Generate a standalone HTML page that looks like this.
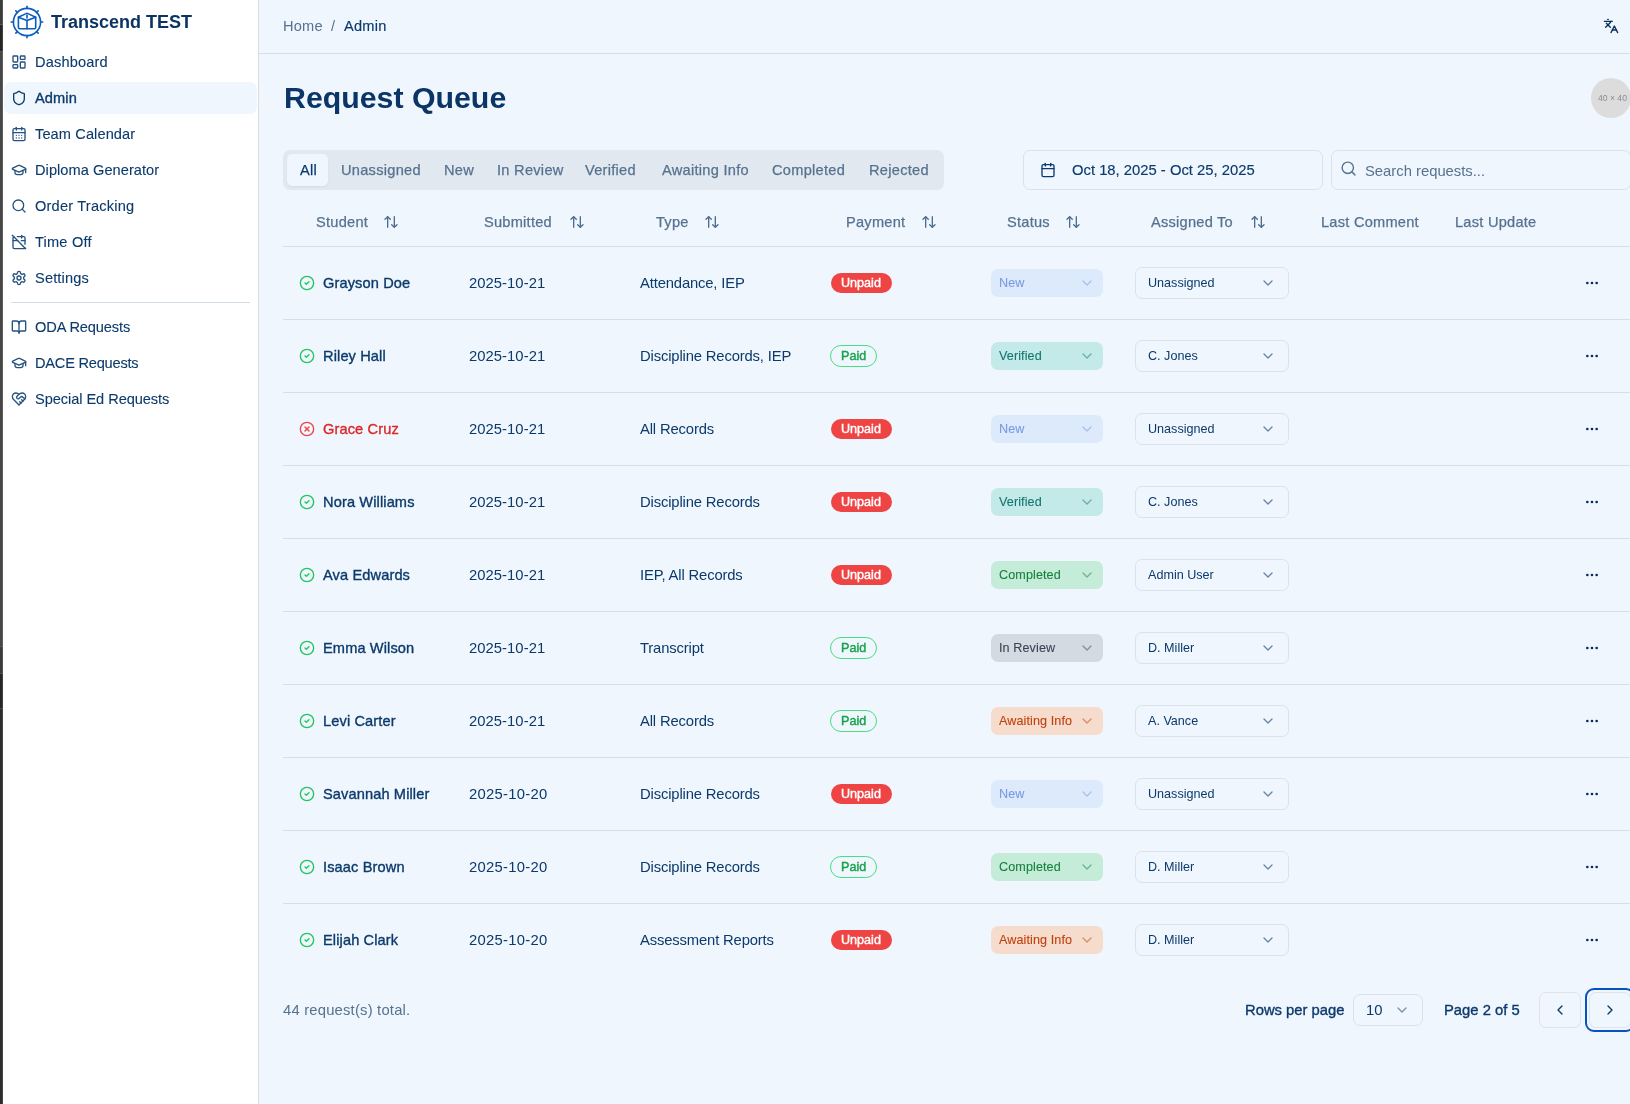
<!DOCTYPE html><html><head><meta charset="utf-8"><style>
*{margin:0;padding:0;box-sizing:border-box}
html,body{width:1630px;height:1104px;overflow:hidden;background:#eff6fe;font-family:"Liberation Sans",sans-serif;color:#0b3a6b}
.ic{position:absolute;display:block}
.t{position:absolute;white-space:nowrap;line-height:0;height:0;will-change:transform}
.box{position:absolute}

</style></head><body>
<div class="box" style="left:0;top:0px;width:3px;height:24px;background:#3c3c3c"></div>
<div class="box" style="left:0;top:24px;width:3px;height:1px;background:#585858"></div>
<div class="box" style="left:0;top:25px;width:3px;height:26px;background:#262626"></div>
<div class="box" style="left:0;top:51px;width:3px;height:1px;background:#555555"></div>
<div class="box" style="left:0;top:52px;width:3px;height:594px;background:#474747"></div>
<div class="box" style="left:0;top:646px;width:3px;height:1px;background:#5a5a5a"></div>
<div class="box" style="left:0;top:647px;width:3px;height:26px;background:#3b3b3b"></div>
<div class="box" style="left:0;top:673px;width:3px;height:1px;background:#505050"></div>
<div class="box" style="left:0;top:674px;width:3px;height:34px;background:#262626"></div>
<div class="box" style="left:0;top:708px;width:3px;height:1px;background:#4a4a4a"></div>
<div class="box" style="left:0;top:709px;width:3px;height:395px;background:#2c2c2c"></div>
<div class="box" style="left:2px;top:0;width:1px;height:1104px;background:rgba(255,255,255,0.12)"></div>
<div class="box" style="left:3px;top:0;width:256px;height:1104px;background:#fff;border-right:1px solid #d5dde6"></div>
<svg class="ic" style="left:9px;top:4px;width:36px;height:36px" viewBox="0 0 36 36" fill="none" stroke="#0b5cc0" stroke-width="1.6" stroke-linecap="round" stroke-linejoin="round"><circle cx="18" cy="18" r="13.6"/><path d="M31.60 18.00L33.80 18.00"/><path d="M27.62 27.62L29.17 29.17"/><path d="M18.00 31.60L18.00 33.80"/><path d="M8.38 27.62L6.83 29.17"/><path d="M4.40 18.00L2.20 18.00"/><path d="M8.38 8.38L6.83 6.83"/><path d="M18.00 4.40L18.00 2.20"/><path d="M27.62 8.38L29.17 6.83"/><path d="M9.4 13.2 L17 9.6 Q18 9 19 9.6 L26.7 13.2 L26.7 23.6 Q26.7 24.8 25.5 24.8 L10.6 24.8 Q9.4 24.8 9.4 23.6 Z"/><path d="M9.4 13.2 L18 16.6 L26.7 13.2"/><path d="M18 16.6 V24.8"/><path d="M18 11 V14"/></svg>
<div class="t" style="left:51px;top:21.5px;font-size:18px;color:#0a3463;font-weight:700;letter-spacing:0px;">Transcend TEST</div>
<div class="box" style="left:4px;top:82px;width:253px;height:32px;background:#eff6fe;border-radius:7px"></div>
<svg class="ic" style="left:11px;top:54px;width:16px;height:16px;" viewBox="0 0 24 24" fill="none" stroke="#25527f" stroke-width="2" stroke-linecap="round" stroke-linejoin="round"><rect width="7" height="9" x="3" y="3" rx="1"/><rect width="7" height="5" x="14" y="3" rx="1"/><rect width="7" height="9" x="14" y="12" rx="1"/><rect width="7" height="5" x="3" y="16" rx="1"/></svg>
<div class="t" style="left:35px;top:62px;font-size:14.6px;color:#0b3a6b;font-weight:400;letter-spacing:0.15px;-webkit-text-stroke:0.1px #0b3a6b;">Dashboard</div>
<svg class="ic" style="left:11px;top:90px;width:16px;height:16px;" viewBox="0 0 24 24" fill="none" stroke="#0b3a6b" stroke-width="2" stroke-linecap="round" stroke-linejoin="round"><path d="M20 13c0 5-3.5 7.5-7.66 8.95a1 1 0 0 1-.67-.01C7.5 20.5 4 18 4 13V6a1 1 0 0 1 1-1c2 0 4.5-1.2 6.24-2.72a1.170 1.170 0 0 1 1.52 0C14.51 3.81 17 5 19 5a1 1 0 0 1 1 1z"/></svg>
<div class="t" style="left:35px;top:98px;font-size:14.6px;color:#0b3a6b;font-weight:400;letter-spacing:0.1px;-webkit-text-stroke:0.35px #0b3a6b;">Admin</div>
<svg class="ic" style="left:11px;top:126px;width:16px;height:16px;" viewBox="0 0 24 24" fill="none" stroke="#25527f" stroke-width="2" stroke-linecap="round" stroke-linejoin="round"><path d="M8 2v4"/><path d="M16 2v4"/><rect width="18" height="18" x="3" y="4" rx="2"/><path d="M3 10h18"/><path d="M8 14h.01"/><path d="M12 14h.01"/><path d="M16 14h.01"/><path d="M8 18h.01"/><path d="M12 18h.01"/><path d="M16 18h.01"/></svg>
<div class="t" style="left:35px;top:134px;font-size:14.6px;color:#0b3a6b;font-weight:400;letter-spacing:0.1px;-webkit-text-stroke:0.1px #0b3a6b;">Team Calendar</div>
<svg class="ic" style="left:11px;top:162px;width:16px;height:16px;" viewBox="0 0 24 24" fill="none" stroke="#25527f" stroke-width="2" stroke-linecap="round" stroke-linejoin="round"><path d="M21.42 10.922a1 1 0 0 0-.019-1.838L12.83 5.18a2 2 0 0 0-1.66 0L2.6 9.08a1 1 0 0 0 0 1.832l8.57 3.908a2 2 0 0 0 1.66 0z"/><path d="M22 10v6"/><path d="M6 12.5V16a6 3 0 0 0 12 0v-3.5"/></svg>
<div class="t" style="left:35px;top:170px;font-size:14.6px;color:#0b3a6b;font-weight:400;letter-spacing:0.05px;-webkit-text-stroke:0.1px #0b3a6b;">Diploma Generator</div>
<svg class="ic" style="left:11px;top:198px;width:16px;height:16px;" viewBox="0 0 24 24" fill="none" stroke="#25527f" stroke-width="2" stroke-linecap="round" stroke-linejoin="round"><circle cx="11" cy="11" r="8"/><path d="m21 21-4.3-4.3"/></svg>
<div class="t" style="left:35px;top:206px;font-size:14.6px;color:#0b3a6b;font-weight:400;letter-spacing:0.2px;-webkit-text-stroke:0.1px #0b3a6b;">Order Tracking</div>
<svg class="ic" style="left:11px;top:234px;width:16px;height:16px;" viewBox="0 0 24 24" fill="none" stroke="#25527f" stroke-width="2" stroke-linecap="round" stroke-linejoin="round"><path d="M4.2 4.2A2 2 0 0 0 3 6v14a2 2 0 0 0 2 2h14a2 2 0 0 0 1.82-1.18"/><path d="M21 15.5V6a2 2 0 0 0-2-2H9.5"/><path d="M16 2v4"/><path d="M3 10h7"/><path d="M21 10h-5.5"/><path d="m2 2 20 20"/></svg>
<div class="t" style="left:35px;top:242px;font-size:14.6px;color:#0b3a6b;font-weight:400;letter-spacing:0.2px;-webkit-text-stroke:0.1px #0b3a6b;">Time Off</div>
<svg class="ic" style="left:11px;top:270px;width:16px;height:16px;" viewBox="0 0 24 24" fill="none" stroke="#25527f" stroke-width="2" stroke-linecap="round" stroke-linejoin="round"><path d="M12.22 2h-.44a2 2 0 0 0-2 2v.18a2 2 0 0 1-1 1.73l-.43.25a2 2 0 0 1-2 0l-.15-.08a2 2 0 0 0-2.73.73l-.22.38a2 2 0 0 0 .73 2.730l.15.1a2 2 0 0 1 1 1.72v.51a2 2 0 0 1-1 1.74l-.15.09a2 2 0 0 0-.73 2.73l.22.38a2 2 0 0 0 2.73.73l.15-.08a2 2 0 0 1 2 0l.43.25a2 2 0 0 1 1 1.73V20a2 2 0 0 0 2 2h.44a2 2 0 0 0 2-2v-.18a2 2 0 0 1 1-1.73l.43-.25a2 2 0 0 1 2 0l.15.08a2 2 0 0 0 2.73-.73l.22-.39a2 2 0 0 0-.73-2.73l-.15-.08a2 2 0 0 1-1-1.74v-.5a2 2 0 0 1 1-1.74l.15-.09a2 2 0 0 0 .73-2.73l-.22-.38a2 2 0 0 0-2.73-.73l-.15.08a2 2 0 0 1-2 0l-.43-.25a2 2 0 0 1-1-1.73V4a2 2 0 0 0-2-2z"/><circle cx="12" cy="12" r="3"/></svg>
<div class="t" style="left:35px;top:278px;font-size:14.6px;color:#0b3a6b;font-weight:400;letter-spacing:0.15px;-webkit-text-stroke:0.1px #0b3a6b;">Settings</div>
<svg class="ic" style="left:11px;top:319px;width:16px;height:16px;" viewBox="0 0 24 24" fill="none" stroke="#25527f" stroke-width="2" stroke-linecap="round" stroke-linejoin="round"><path d="M12 7v14"/><path d="M3 18a1 1 0 0 1-1-1V4a1 1 0 0 1 1-1h5a4 4 0 0 1 4 4 4 4 0 0 1 4-4h5a1 1 0 0 1 1 1v13a1 1 0 0 1-1 1h-6a3 3 0 0 0-3 3 3 3 0 0 0-3-3z"/></svg>
<div class="t" style="left:35px;top:327px;font-size:14.6px;color:#0b3a6b;font-weight:400;letter-spacing:-0.12px;-webkit-text-stroke:0.1px #0b3a6b;">ODA Requests</div>
<svg class="ic" style="left:11px;top:355px;width:16px;height:16px;" viewBox="0 0 24 24" fill="none" stroke="#25527f" stroke-width="2" stroke-linecap="round" stroke-linejoin="round"><path d="M21.42 10.922a1 1 0 0 0-.019-1.838L12.83 5.18a2 2 0 0 0-1.66 0L2.6 9.08a1 1 0 0 0 0 1.832l8.57 3.908a2 2 0 0 0 1.66 0z"/><path d="M22 10v6"/><path d="M6 12.5V16a6 3 0 0 0 12 0v-3.5"/></svg>
<div class="t" style="left:35px;top:363px;font-size:14.6px;color:#0b3a6b;font-weight:400;letter-spacing:-0.22px;-webkit-text-stroke:0.1px #0b3a6b;">DACE Requests</div>
<svg class="ic" style="left:11px;top:391px;width:16px;height:16px;" viewBox="0 0 24 24" fill="none" stroke="#25527f" stroke-width="2" stroke-linecap="round" stroke-linejoin="round"><path d="M19 14c1.49-1.46 3-3.21 3-5.5A5.5 5.5 0 0 0 16.5 3c-1.76 0-3 .5-4.5 2-1.5-1.5-2.74-2-4.5-2A5.5 5.5 0 0 0 2 8.5c0 2.3 1.5 4.05 3 5.5l7 7Z"/><path d="M12 5 9.04 7.96a2.17 2.17 0 0 0 0 3.08c.82.82 2.13.85 3 .07l2.07-1.9a2.82 2.82 0 0 1 3.79 0l2.96 2.66"/><path d="m18 15-2-2"/><path d="m15 18-2-2"/></svg>
<div class="t" style="left:35px;top:399px;font-size:14.6px;color:#0b3a6b;font-weight:400;letter-spacing:-0.06px;-webkit-text-stroke:0.1px #0b3a6b;">Special Ed Requests</div>
<div class="box" style="left:11px;top:302px;width:239px;height:1px;background:#d3dde7"></div>
<div class="box" style="left:259px;top:53px;width:1371px;height:1px;background:#d6dee7"></div>
<div class="t" style="left:283px;top:26px;font-size:14.6px;color:#56728f;font-weight:400;letter-spacing:0.2px;">Home</div>
<div class="t" style="left:331px;top:26px;font-size:14.6px;color:#56728f;font-weight:400;letter-spacing:0px;">/</div>
<div class="t" style="left:344px;top:26px;font-size:14.6px;color:#0b3a6b;font-weight:400;letter-spacing:0.25px;-webkit-text-stroke:0.15px #0b3a6b;">Admin</div>
<svg class="ic" style="left:1603px;top:18px;width:16px;height:16px;" viewBox="0 0 24 24" fill="none" stroke="#0a2f5e" stroke-width="2" stroke-linecap="round" stroke-linejoin="round"><path d="m5 8 6 6"/><path d="m4 14 6-6 2-3"/><path d="M2 5h12"/><path d="M7 2h1"/><path d="m22 22-5-10-5 10"/><path d="M14 18h6"/></svg>
<div class="t" style="left:283.5px;top:98px;font-size:30.3px;color:#0a3566;font-weight:700;letter-spacing:0px;">Request Queue</div>
<div class="box" style="left:1591px;top:78px;width:40px;height:40px;border-radius:50%;background:#dcdcdc"></div>
<div class="t" style="left:1597.6px;top:98.4px;font-size:8.6px;color:#8c8c8c;font-weight:400;letter-spacing:0px;">40 × 40</div>
<div class="box" style="left:283px;top:150px;width:661px;height:40px;background:#e1e8f0;border-radius:7px"></div>
<div class="box" style="left:287px;top:154px;width:41px;height:32px;background:#eff6fe;border-radius:5px;box-shadow:0 1px 2px rgba(0,0,0,0.06)"></div>
<div class="t" style="left:299.5px;top:170px;font-size:14.6px;color:#0b3a6b;font-weight:400;letter-spacing:0.28px;-webkit-text-stroke:0.25px #0b3a6b;">All</div>
<div class="t" style="left:340.5px;top:170px;font-size:14.6px;color:#56728f;font-weight:400;letter-spacing:0.28px;-webkit-text-stroke:0.25px #56728f;">Unassigned</div>
<div class="t" style="left:443.7px;top:170px;font-size:14.6px;color:#56728f;font-weight:400;letter-spacing:0.28px;-webkit-text-stroke:0.25px #56728f;">New</div>
<div class="t" style="left:497.3px;top:170px;font-size:14.6px;color:#56728f;font-weight:400;letter-spacing:0.28px;-webkit-text-stroke:0.25px #56728f;">In Review</div>
<div class="t" style="left:585.3px;top:170px;font-size:14.6px;color:#56728f;font-weight:400;letter-spacing:0.28px;-webkit-text-stroke:0.25px #56728f;">Verified</div>
<div class="t" style="left:661.7px;top:170px;font-size:14.6px;color:#56728f;font-weight:400;letter-spacing:0.28px;-webkit-text-stroke:0.25px #56728f;">Awaiting Info</div>
<div class="t" style="left:772.4px;top:170px;font-size:14.6px;color:#56728f;font-weight:400;letter-spacing:0.28px;-webkit-text-stroke:0.25px #56728f;">Completed</div>
<div class="t" style="left:869.4px;top:170px;font-size:14.6px;color:#56728f;font-weight:400;letter-spacing:0.28px;-webkit-text-stroke:0.25px #56728f;">Rejected</div>
<div class="box" style="left:1023px;top:150px;width:300px;height:40px;border:1px solid #dbe2ea;border-radius:7px"></div>
<svg class="ic" style="left:1040px;top:162px;width:16px;height:16px;" viewBox="0 0 24 24" fill="none" stroke="#0b3a6b" stroke-width="2" stroke-linecap="round" stroke-linejoin="round"><path d="M8 2v4"/><path d="M16 2v4"/><rect width="18" height="18" x="3" y="4" rx="2"/><path d="M3 10h18"/></svg>
<div class="t" style="left:1072.4px;top:170px;font-size:14.8px;color:#0b3a6b;font-weight:400;letter-spacing:0px;-webkit-text-stroke:0.15px #0b3a6b;">Oct 18, 2025 - Oct 25, 2025</div>
<div class="box" style="left:1331px;top:150px;width:300px;height:40px;border:1px solid #dbe2ea;border-radius:7px"></div>
<svg class="ic" style="left:1340px;top:160px;width:17px;height:17px;" viewBox="0 0 24 24" fill="none" stroke="#56728f" stroke-width="2" stroke-linecap="round" stroke-linejoin="round"><circle cx="11" cy="11" r="8"/><path d="m21 21-4.3-4.3"/></svg>
<div class="t" style="left:1364.7px;top:170.5px;font-size:14.8px;color:#56728f;font-weight:400;letter-spacing:0px;">Search requests...</div>
<div class="t" style="left:315.6px;top:222px;font-size:14.6px;color:#56728f;font-weight:400;letter-spacing:0.25px;-webkit-text-stroke:0.25px #56728f;">Student</div>
<svg class="ic" style="left:383px;top:214px;width:16px;height:16px;" viewBox="0 0 24 24" fill="none" stroke="#4d6d90" stroke-width="2" stroke-linecap="round" stroke-linejoin="round"><path d="m21 16-4 4-4-4"/><path d="M17 20V4"/><path d="m3 8 4-4 4 4"/><path d="M7 4v16"/></svg>
<div class="t" style="left:484.4px;top:222px;font-size:14.6px;color:#56728f;font-weight:400;letter-spacing:0.25px;-webkit-text-stroke:0.25px #56728f;">Submitted</div>
<svg class="ic" style="left:569px;top:214px;width:16px;height:16px;" viewBox="0 0 24 24" fill="none" stroke="#4d6d90" stroke-width="2" stroke-linecap="round" stroke-linejoin="round"><path d="m21 16-4 4-4-4"/><path d="M17 20V4"/><path d="m3 8 4-4 4 4"/><path d="M7 4v16"/></svg>
<div class="t" style="left:655.7px;top:222px;font-size:14.6px;color:#56728f;font-weight:400;letter-spacing:0.25px;-webkit-text-stroke:0.25px #56728f;">Type</div>
<svg class="ic" style="left:704px;top:214px;width:16px;height:16px;" viewBox="0 0 24 24" fill="none" stroke="#4d6d90" stroke-width="2" stroke-linecap="round" stroke-linejoin="round"><path d="m21 16-4 4-4-4"/><path d="M17 20V4"/><path d="m3 8 4-4 4 4"/><path d="M7 4v16"/></svg>
<div class="t" style="left:846px;top:222px;font-size:14.6px;color:#56728f;font-weight:400;letter-spacing:0.25px;-webkit-text-stroke:0.25px #56728f;">Payment</div>
<svg class="ic" style="left:921px;top:214px;width:16px;height:16px;" viewBox="0 0 24 24" fill="none" stroke="#4d6d90" stroke-width="2" stroke-linecap="round" stroke-linejoin="round"><path d="m21 16-4 4-4-4"/><path d="M17 20V4"/><path d="m3 8 4-4 4 4"/><path d="M7 4v16"/></svg>
<div class="t" style="left:1007px;top:222px;font-size:14.6px;color:#56728f;font-weight:400;letter-spacing:0.25px;-webkit-text-stroke:0.25px #56728f;">Status</div>
<svg class="ic" style="left:1065px;top:214px;width:16px;height:16px;" viewBox="0 0 24 24" fill="none" stroke="#4d6d90" stroke-width="2" stroke-linecap="round" stroke-linejoin="round"><path d="m21 16-4 4-4-4"/><path d="M17 20V4"/><path d="m3 8 4-4 4 4"/><path d="M7 4v16"/></svg>
<div class="t" style="left:1151px;top:222px;font-size:14.6px;color:#56728f;font-weight:400;letter-spacing:0.25px;-webkit-text-stroke:0.25px #56728f;">Assigned To</div>
<svg class="ic" style="left:1250px;top:214px;width:16px;height:16px;" viewBox="0 0 24 24" fill="none" stroke="#4d6d90" stroke-width="2" stroke-linecap="round" stroke-linejoin="round"><path d="m21 16-4 4-4-4"/><path d="M17 20V4"/><path d="m3 8 4-4 4 4"/><path d="M7 4v16"/></svg>
<div class="t" style="left:1321px;top:222px;font-size:14.6px;color:#56728f;font-weight:400;letter-spacing:0.25px;-webkit-text-stroke:0.25px #56728f;">Last Comment</div>
<div class="t" style="left:1455px;top:222px;font-size:14.6px;color:#56728f;font-weight:400;letter-spacing:0.25px;-webkit-text-stroke:0.25px #56728f;">Last Update</div>
<div class="box" style="left:283px;top:246px;width:1347px;height:1px;background:#d6dee7"></div>
<div class="box" style="left:283px;top:319px;width:1347px;height:1px;background:#d6dee7"></div>
<svg class="ic" style="left:299px;top:275px;width:16px;height:16px;" viewBox="0 0 24 24" fill="none" stroke="#22c55e" stroke-width="2" stroke-linecap="round" stroke-linejoin="round"><circle cx="12" cy="12" r="10"/><path d="m9 12 2 2 4-4"/></svg>
<div class="t" style="left:323px;top:283px;font-size:14.6px;color:#0b3a6b;font-weight:400;letter-spacing:0.12px;-webkit-text-stroke:0.35px #0b3a6b;">Grayson Doe</div>
<div class="t" style="left:468.8px;top:283px;font-size:14.8px;color:#0b3a6b;font-weight:400;letter-spacing:0.05px;">2025-10-21</div>
<div class="t" style="left:639.6px;top:283px;font-size:14.8px;color:#0b3a6b;font-weight:400;letter-spacing:-0.15px;">Attendance, IEP</div>
<div class="box" style="left:831px;top:273px;width:61px;height:20px;background:#ef4444;border-radius:10px"></div>
<div class="t" style="left:841.4px;top:283px;font-size:12.6px;color:#fff;font-weight:400;letter-spacing:0px;-webkit-text-stroke:0.4px #fff;">Unpaid</div>
<div class="box" style="left:991px;top:269px;width:112px;height:28px;background:#dceafb;border-radius:7px"></div>
<div class="t" style="left:999px;top:283px;font-size:12.6px;color:#7a9ae3;font-weight:400;letter-spacing:0.1px;-webkit-text-stroke:0.1px #7a9ae3;">New</div>
<svg class="ic" style="left:1079px;top:275px;width:16px;height:16px;opacity:0.5" viewBox="0 0 24 24" fill="none" stroke="#7a9ae3" stroke-width="2" stroke-linecap="round" stroke-linejoin="round"><path d="m6 9 6 6 6-6"/></svg>
<div class="box" style="left:1135px;top:267px;width:154px;height:32px;border:1px solid #dbe2ea;border-radius:7px"></div>
<div class="t" style="left:1148.0px;top:283px;font-size:12.6px;color:#0b3a6b;font-weight:400;letter-spacing:0px;">Unassigned</div>
<svg class="ic" style="left:1260px;top:275px;width:16px;height:16px;opacity:0.9" viewBox="0 0 24 24" fill="none" stroke="#5b7a99" stroke-width="2" stroke-linecap="round" stroke-linejoin="round"><path d="m6 9 6 6 6-6"/></svg>
<svg class="ic" style="left:1584px;top:275px;width:16px;height:16px;" viewBox="0 0 24 24" fill="none" stroke="#0a2a5c" stroke-width="2" stroke-linecap="round" stroke-linejoin="round"><circle cx="12" cy="12" r="1"/><circle cx="19" cy="12" r="1"/><circle cx="5" cy="12" r="1"/></svg>
<div class="box" style="left:283px;top:392px;width:1347px;height:1px;background:#d6dee7"></div>
<svg class="ic" style="left:299px;top:348px;width:16px;height:16px;" viewBox="0 0 24 24" fill="none" stroke="#22c55e" stroke-width="2" stroke-linecap="round" stroke-linejoin="round"><circle cx="12" cy="12" r="10"/><path d="m9 12 2 2 4-4"/></svg>
<div class="t" style="left:323px;top:356px;font-size:14.6px;color:#0b3a6b;font-weight:400;letter-spacing:0.12px;-webkit-text-stroke:0.35px #0b3a6b;">Riley Hall</div>
<div class="t" style="left:468.8px;top:356px;font-size:14.8px;color:#0b3a6b;font-weight:400;letter-spacing:0.05px;">2025-10-21</div>
<div class="t" style="left:639.6px;top:356px;font-size:14.8px;color:#0b3a6b;font-weight:400;letter-spacing:-0.15px;">Discipline Records, IEP</div>
<div class="box" style="left:830px;top:345px;width:47px;height:22px;border:1px solid #4ade80;border-radius:11px"></div>
<div class="t" style="left:841.4px;top:356px;font-size:12.6px;color:#16a34a;font-weight:400;letter-spacing:0px;-webkit-text-stroke:0.4px #16a34a;">Paid</div>
<div class="box" style="left:991px;top:342px;width:112px;height:28px;background:#c3e9e9;border-radius:7px"></div>
<div class="t" style="left:999px;top:356px;font-size:12.6px;color:#13766f;font-weight:400;letter-spacing:0.1px;-webkit-text-stroke:0.1px #13766f;">Verified</div>
<svg class="ic" style="left:1079px;top:348px;width:16px;height:16px;opacity:0.5" viewBox="0 0 24 24" fill="none" stroke="#13766f" stroke-width="2" stroke-linecap="round" stroke-linejoin="round"><path d="m6 9 6 6 6-6"/></svg>
<div class="box" style="left:1135px;top:340px;width:154px;height:32px;border:1px solid #dbe2ea;border-radius:7px"></div>
<div class="t" style="left:1148.0px;top:356px;font-size:12.6px;color:#0b3a6b;font-weight:400;letter-spacing:0px;">C. Jones</div>
<svg class="ic" style="left:1260px;top:348px;width:16px;height:16px;opacity:0.9" viewBox="0 0 24 24" fill="none" stroke="#5b7a99" stroke-width="2" stroke-linecap="round" stroke-linejoin="round"><path d="m6 9 6 6 6-6"/></svg>
<svg class="ic" style="left:1584px;top:348px;width:16px;height:16px;" viewBox="0 0 24 24" fill="none" stroke="#0a2a5c" stroke-width="2" stroke-linecap="round" stroke-linejoin="round"><circle cx="12" cy="12" r="1"/><circle cx="19" cy="12" r="1"/><circle cx="5" cy="12" r="1"/></svg>
<div class="box" style="left:283px;top:465px;width:1347px;height:1px;background:#d6dee7"></div>
<svg class="ic" style="left:299px;top:421px;width:16px;height:16px;" viewBox="0 0 24 24" fill="none" stroke="#ef4444" stroke-width="2" stroke-linecap="round" stroke-linejoin="round"><circle cx="12" cy="12" r="10"/><path d="m15 9-6 6"/><path d="m9 9 6 6"/></svg>
<div class="t" style="left:323px;top:429px;font-size:14.6px;color:#dc2626;font-weight:400;letter-spacing:0.12px;-webkit-text-stroke:0.35px #dc2626;">Grace Cruz</div>
<div class="t" style="left:468.8px;top:429px;font-size:14.8px;color:#0b3a6b;font-weight:400;letter-spacing:0.05px;">2025-10-21</div>
<div class="t" style="left:639.6px;top:429px;font-size:14.8px;color:#0b3a6b;font-weight:400;letter-spacing:-0.15px;">All Records</div>
<div class="box" style="left:831px;top:419px;width:61px;height:20px;background:#ef4444;border-radius:10px"></div>
<div class="t" style="left:841.4px;top:429px;font-size:12.6px;color:#fff;font-weight:400;letter-spacing:0px;-webkit-text-stroke:0.4px #fff;">Unpaid</div>
<div class="box" style="left:991px;top:415px;width:112px;height:28px;background:#dceafb;border-radius:7px"></div>
<div class="t" style="left:999px;top:429px;font-size:12.6px;color:#7a9ae3;font-weight:400;letter-spacing:0.1px;-webkit-text-stroke:0.1px #7a9ae3;">New</div>
<svg class="ic" style="left:1079px;top:421px;width:16px;height:16px;opacity:0.5" viewBox="0 0 24 24" fill="none" stroke="#7a9ae3" stroke-width="2" stroke-linecap="round" stroke-linejoin="round"><path d="m6 9 6 6 6-6"/></svg>
<div class="box" style="left:1135px;top:413px;width:154px;height:32px;border:1px solid #dbe2ea;border-radius:7px"></div>
<div class="t" style="left:1148.0px;top:429px;font-size:12.6px;color:#0b3a6b;font-weight:400;letter-spacing:0px;">Unassigned</div>
<svg class="ic" style="left:1260px;top:421px;width:16px;height:16px;opacity:0.9" viewBox="0 0 24 24" fill="none" stroke="#5b7a99" stroke-width="2" stroke-linecap="round" stroke-linejoin="round"><path d="m6 9 6 6 6-6"/></svg>
<svg class="ic" style="left:1584px;top:421px;width:16px;height:16px;" viewBox="0 0 24 24" fill="none" stroke="#0a2a5c" stroke-width="2" stroke-linecap="round" stroke-linejoin="round"><circle cx="12" cy="12" r="1"/><circle cx="19" cy="12" r="1"/><circle cx="5" cy="12" r="1"/></svg>
<div class="box" style="left:283px;top:538px;width:1347px;height:1px;background:#d6dee7"></div>
<svg class="ic" style="left:299px;top:494px;width:16px;height:16px;" viewBox="0 0 24 24" fill="none" stroke="#22c55e" stroke-width="2" stroke-linecap="round" stroke-linejoin="round"><circle cx="12" cy="12" r="10"/><path d="m9 12 2 2 4-4"/></svg>
<div class="t" style="left:323px;top:502px;font-size:14.6px;color:#0b3a6b;font-weight:400;letter-spacing:0.12px;-webkit-text-stroke:0.35px #0b3a6b;">Nora Williams</div>
<div class="t" style="left:468.8px;top:502px;font-size:14.8px;color:#0b3a6b;font-weight:400;letter-spacing:0.05px;">2025-10-21</div>
<div class="t" style="left:639.6px;top:502px;font-size:14.8px;color:#0b3a6b;font-weight:400;letter-spacing:-0.15px;">Discipline Records</div>
<div class="box" style="left:831px;top:492px;width:61px;height:20px;background:#ef4444;border-radius:10px"></div>
<div class="t" style="left:841.4px;top:502px;font-size:12.6px;color:#fff;font-weight:400;letter-spacing:0px;-webkit-text-stroke:0.4px #fff;">Unpaid</div>
<div class="box" style="left:991px;top:488px;width:112px;height:28px;background:#c3e9e9;border-radius:7px"></div>
<div class="t" style="left:999px;top:502px;font-size:12.6px;color:#13766f;font-weight:400;letter-spacing:0.1px;-webkit-text-stroke:0.1px #13766f;">Verified</div>
<svg class="ic" style="left:1079px;top:494px;width:16px;height:16px;opacity:0.5" viewBox="0 0 24 24" fill="none" stroke="#13766f" stroke-width="2" stroke-linecap="round" stroke-linejoin="round"><path d="m6 9 6 6 6-6"/></svg>
<div class="box" style="left:1135px;top:486px;width:154px;height:32px;border:1px solid #dbe2ea;border-radius:7px"></div>
<div class="t" style="left:1148.0px;top:502px;font-size:12.6px;color:#0b3a6b;font-weight:400;letter-spacing:0px;">C. Jones</div>
<svg class="ic" style="left:1260px;top:494px;width:16px;height:16px;opacity:0.9" viewBox="0 0 24 24" fill="none" stroke="#5b7a99" stroke-width="2" stroke-linecap="round" stroke-linejoin="round"><path d="m6 9 6 6 6-6"/></svg>
<svg class="ic" style="left:1584px;top:494px;width:16px;height:16px;" viewBox="0 0 24 24" fill="none" stroke="#0a2a5c" stroke-width="2" stroke-linecap="round" stroke-linejoin="round"><circle cx="12" cy="12" r="1"/><circle cx="19" cy="12" r="1"/><circle cx="5" cy="12" r="1"/></svg>
<div class="box" style="left:283px;top:611px;width:1347px;height:1px;background:#d6dee7"></div>
<svg class="ic" style="left:299px;top:567px;width:16px;height:16px;" viewBox="0 0 24 24" fill="none" stroke="#22c55e" stroke-width="2" stroke-linecap="round" stroke-linejoin="round"><circle cx="12" cy="12" r="10"/><path d="m9 12 2 2 4-4"/></svg>
<div class="t" style="left:323px;top:575px;font-size:14.6px;color:#0b3a6b;font-weight:400;letter-spacing:0.12px;-webkit-text-stroke:0.35px #0b3a6b;">Ava Edwards</div>
<div class="t" style="left:468.8px;top:575px;font-size:14.8px;color:#0b3a6b;font-weight:400;letter-spacing:0.05px;">2025-10-21</div>
<div class="t" style="left:639.6px;top:575px;font-size:14.8px;color:#0b3a6b;font-weight:400;letter-spacing:-0.15px;">IEP, All Records</div>
<div class="box" style="left:831px;top:565px;width:61px;height:20px;background:#ef4444;border-radius:10px"></div>
<div class="t" style="left:841.4px;top:575px;font-size:12.6px;color:#fff;font-weight:400;letter-spacing:0px;-webkit-text-stroke:0.4px #fff;">Unpaid</div>
<div class="box" style="left:991px;top:561px;width:112px;height:28px;background:#c5ecd8;border-radius:7px"></div>
<div class="t" style="left:999px;top:575px;font-size:12.6px;color:#18803f;font-weight:400;letter-spacing:0.1px;-webkit-text-stroke:0.1px #18803f;">Completed</div>
<svg class="ic" style="left:1079px;top:567px;width:16px;height:16px;opacity:0.5" viewBox="0 0 24 24" fill="none" stroke="#18803f" stroke-width="2" stroke-linecap="round" stroke-linejoin="round"><path d="m6 9 6 6 6-6"/></svg>
<div class="box" style="left:1135px;top:559px;width:154px;height:32px;border:1px solid #dbe2ea;border-radius:7px"></div>
<div class="t" style="left:1148.0px;top:575px;font-size:12.6px;color:#0b3a6b;font-weight:400;letter-spacing:0px;">Admin User</div>
<svg class="ic" style="left:1260px;top:567px;width:16px;height:16px;opacity:0.9" viewBox="0 0 24 24" fill="none" stroke="#5b7a99" stroke-width="2" stroke-linecap="round" stroke-linejoin="round"><path d="m6 9 6 6 6-6"/></svg>
<svg class="ic" style="left:1584px;top:567px;width:16px;height:16px;" viewBox="0 0 24 24" fill="none" stroke="#0a2a5c" stroke-width="2" stroke-linecap="round" stroke-linejoin="round"><circle cx="12" cy="12" r="1"/><circle cx="19" cy="12" r="1"/><circle cx="5" cy="12" r="1"/></svg>
<div class="box" style="left:283px;top:684px;width:1347px;height:1px;background:#d6dee7"></div>
<svg class="ic" style="left:299px;top:640px;width:16px;height:16px;" viewBox="0 0 24 24" fill="none" stroke="#22c55e" stroke-width="2" stroke-linecap="round" stroke-linejoin="round"><circle cx="12" cy="12" r="10"/><path d="m9 12 2 2 4-4"/></svg>
<div class="t" style="left:323px;top:648px;font-size:14.6px;color:#0b3a6b;font-weight:400;letter-spacing:0.12px;-webkit-text-stroke:0.35px #0b3a6b;">Emma Wilson</div>
<div class="t" style="left:468.8px;top:648px;font-size:14.8px;color:#0b3a6b;font-weight:400;letter-spacing:0.05px;">2025-10-21</div>
<div class="t" style="left:639.6px;top:648px;font-size:14.8px;color:#0b3a6b;font-weight:400;letter-spacing:-0.15px;">Transcript</div>
<div class="box" style="left:830px;top:637px;width:47px;height:22px;border:1px solid #4ade80;border-radius:11px"></div>
<div class="t" style="left:841.4px;top:648px;font-size:12.6px;color:#16a34a;font-weight:400;letter-spacing:0px;-webkit-text-stroke:0.4px #16a34a;">Paid</div>
<div class="box" style="left:991px;top:634px;width:112px;height:28px;background:#d4dae2;border-radius:7px"></div>
<div class="t" style="left:999px;top:648px;font-size:12.6px;color:#394455;font-weight:400;letter-spacing:0.1px;-webkit-text-stroke:0.1px #394455;">In Review</div>
<svg class="ic" style="left:1079px;top:640px;width:16px;height:16px;opacity:0.5" viewBox="0 0 24 24" fill="none" stroke="#394455" stroke-width="2" stroke-linecap="round" stroke-linejoin="round"><path d="m6 9 6 6 6-6"/></svg>
<div class="box" style="left:1135px;top:632px;width:154px;height:32px;border:1px solid #dbe2ea;border-radius:7px"></div>
<div class="t" style="left:1148.0px;top:648px;font-size:12.6px;color:#0b3a6b;font-weight:400;letter-spacing:0px;">D. Miller</div>
<svg class="ic" style="left:1260px;top:640px;width:16px;height:16px;opacity:0.9" viewBox="0 0 24 24" fill="none" stroke="#5b7a99" stroke-width="2" stroke-linecap="round" stroke-linejoin="round"><path d="m6 9 6 6 6-6"/></svg>
<svg class="ic" style="left:1584px;top:640px;width:16px;height:16px;" viewBox="0 0 24 24" fill="none" stroke="#0a2a5c" stroke-width="2" stroke-linecap="round" stroke-linejoin="round"><circle cx="12" cy="12" r="1"/><circle cx="19" cy="12" r="1"/><circle cx="5" cy="12" r="1"/></svg>
<div class="box" style="left:283px;top:757px;width:1347px;height:1px;background:#d6dee7"></div>
<svg class="ic" style="left:299px;top:713px;width:16px;height:16px;" viewBox="0 0 24 24" fill="none" stroke="#22c55e" stroke-width="2" stroke-linecap="round" stroke-linejoin="round"><circle cx="12" cy="12" r="10"/><path d="m9 12 2 2 4-4"/></svg>
<div class="t" style="left:323px;top:721px;font-size:14.6px;color:#0b3a6b;font-weight:400;letter-spacing:0.12px;-webkit-text-stroke:0.35px #0b3a6b;">Levi Carter</div>
<div class="t" style="left:468.8px;top:721px;font-size:14.8px;color:#0b3a6b;font-weight:400;letter-spacing:0.05px;">2025-10-21</div>
<div class="t" style="left:639.6px;top:721px;font-size:14.8px;color:#0b3a6b;font-weight:400;letter-spacing:-0.15px;">All Records</div>
<div class="box" style="left:830px;top:710px;width:47px;height:22px;border:1px solid #4ade80;border-radius:11px"></div>
<div class="t" style="left:841.4px;top:721px;font-size:12.6px;color:#16a34a;font-weight:400;letter-spacing:0px;-webkit-text-stroke:0.4px #16a34a;">Paid</div>
<div class="box" style="left:991px;top:707px;width:112px;height:28px;background:#f5dccc;border-radius:7px"></div>
<div class="t" style="left:999px;top:721px;font-size:12.6px;color:#c2410c;font-weight:400;letter-spacing:0.1px;-webkit-text-stroke:0.1px #c2410c;">Awaiting Info</div>
<svg class="ic" style="left:1079px;top:713px;width:16px;height:16px;opacity:0.5" viewBox="0 0 24 24" fill="none" stroke="#c2410c" stroke-width="2" stroke-linecap="round" stroke-linejoin="round"><path d="m6 9 6 6 6-6"/></svg>
<div class="box" style="left:1135px;top:705px;width:154px;height:32px;border:1px solid #dbe2ea;border-radius:7px"></div>
<div class="t" style="left:1148.0px;top:721px;font-size:12.6px;color:#0b3a6b;font-weight:400;letter-spacing:0px;">A. Vance</div>
<svg class="ic" style="left:1260px;top:713px;width:16px;height:16px;opacity:0.9" viewBox="0 0 24 24" fill="none" stroke="#5b7a99" stroke-width="2" stroke-linecap="round" stroke-linejoin="round"><path d="m6 9 6 6 6-6"/></svg>
<svg class="ic" style="left:1584px;top:713px;width:16px;height:16px;" viewBox="0 0 24 24" fill="none" stroke="#0a2a5c" stroke-width="2" stroke-linecap="round" stroke-linejoin="round"><circle cx="12" cy="12" r="1"/><circle cx="19" cy="12" r="1"/><circle cx="5" cy="12" r="1"/></svg>
<div class="box" style="left:283px;top:830px;width:1347px;height:1px;background:#d6dee7"></div>
<svg class="ic" style="left:299px;top:786px;width:16px;height:16px;" viewBox="0 0 24 24" fill="none" stroke="#22c55e" stroke-width="2" stroke-linecap="round" stroke-linejoin="round"><circle cx="12" cy="12" r="10"/><path d="m9 12 2 2 4-4"/></svg>
<div class="t" style="left:323px;top:794px;font-size:14.6px;color:#0b3a6b;font-weight:400;letter-spacing:0.12px;-webkit-text-stroke:0.35px #0b3a6b;">Savannah Miller</div>
<div class="t" style="left:468.8px;top:794px;font-size:14.8px;color:#0b3a6b;font-weight:400;letter-spacing:0.28px;">2025-10-20</div>
<div class="t" style="left:639.6px;top:794px;font-size:14.8px;color:#0b3a6b;font-weight:400;letter-spacing:-0.15px;">Discipline Records</div>
<div class="box" style="left:831px;top:784px;width:61px;height:20px;background:#ef4444;border-radius:10px"></div>
<div class="t" style="left:841.4px;top:794px;font-size:12.6px;color:#fff;font-weight:400;letter-spacing:0px;-webkit-text-stroke:0.4px #fff;">Unpaid</div>
<div class="box" style="left:991px;top:780px;width:112px;height:28px;background:#dceafb;border-radius:7px"></div>
<div class="t" style="left:999px;top:794px;font-size:12.6px;color:#7a9ae3;font-weight:400;letter-spacing:0.1px;-webkit-text-stroke:0.1px #7a9ae3;">New</div>
<svg class="ic" style="left:1079px;top:786px;width:16px;height:16px;opacity:0.5" viewBox="0 0 24 24" fill="none" stroke="#7a9ae3" stroke-width="2" stroke-linecap="round" stroke-linejoin="round"><path d="m6 9 6 6 6-6"/></svg>
<div class="box" style="left:1135px;top:778px;width:154px;height:32px;border:1px solid #dbe2ea;border-radius:7px"></div>
<div class="t" style="left:1148.0px;top:794px;font-size:12.6px;color:#0b3a6b;font-weight:400;letter-spacing:0px;">Unassigned</div>
<svg class="ic" style="left:1260px;top:786px;width:16px;height:16px;opacity:0.9" viewBox="0 0 24 24" fill="none" stroke="#5b7a99" stroke-width="2" stroke-linecap="round" stroke-linejoin="round"><path d="m6 9 6 6 6-6"/></svg>
<svg class="ic" style="left:1584px;top:786px;width:16px;height:16px;" viewBox="0 0 24 24" fill="none" stroke="#0a2a5c" stroke-width="2" stroke-linecap="round" stroke-linejoin="round"><circle cx="12" cy="12" r="1"/><circle cx="19" cy="12" r="1"/><circle cx="5" cy="12" r="1"/></svg>
<div class="box" style="left:283px;top:903px;width:1347px;height:1px;background:#d6dee7"></div>
<svg class="ic" style="left:299px;top:859px;width:16px;height:16px;" viewBox="0 0 24 24" fill="none" stroke="#22c55e" stroke-width="2" stroke-linecap="round" stroke-linejoin="round"><circle cx="12" cy="12" r="10"/><path d="m9 12 2 2 4-4"/></svg>
<div class="t" style="left:323px;top:867px;font-size:14.6px;color:#0b3a6b;font-weight:400;letter-spacing:0.12px;-webkit-text-stroke:0.35px #0b3a6b;">Isaac Brown</div>
<div class="t" style="left:468.8px;top:867px;font-size:14.8px;color:#0b3a6b;font-weight:400;letter-spacing:0.28px;">2025-10-20</div>
<div class="t" style="left:639.6px;top:867px;font-size:14.8px;color:#0b3a6b;font-weight:400;letter-spacing:-0.15px;">Discipline Records</div>
<div class="box" style="left:830px;top:856px;width:47px;height:22px;border:1px solid #4ade80;border-radius:11px"></div>
<div class="t" style="left:841.4px;top:867px;font-size:12.6px;color:#16a34a;font-weight:400;letter-spacing:0px;-webkit-text-stroke:0.4px #16a34a;">Paid</div>
<div class="box" style="left:991px;top:853px;width:112px;height:28px;background:#c5ecd8;border-radius:7px"></div>
<div class="t" style="left:999px;top:867px;font-size:12.6px;color:#18803f;font-weight:400;letter-spacing:0.1px;-webkit-text-stroke:0.1px #18803f;">Completed</div>
<svg class="ic" style="left:1079px;top:859px;width:16px;height:16px;opacity:0.5" viewBox="0 0 24 24" fill="none" stroke="#18803f" stroke-width="2" stroke-linecap="round" stroke-linejoin="round"><path d="m6 9 6 6 6-6"/></svg>
<div class="box" style="left:1135px;top:851px;width:154px;height:32px;border:1px solid #dbe2ea;border-radius:7px"></div>
<div class="t" style="left:1148.0px;top:867px;font-size:12.6px;color:#0b3a6b;font-weight:400;letter-spacing:0px;">D. Miller</div>
<svg class="ic" style="left:1260px;top:859px;width:16px;height:16px;opacity:0.9" viewBox="0 0 24 24" fill="none" stroke="#5b7a99" stroke-width="2" stroke-linecap="round" stroke-linejoin="round"><path d="m6 9 6 6 6-6"/></svg>
<svg class="ic" style="left:1584px;top:859px;width:16px;height:16px;" viewBox="0 0 24 24" fill="none" stroke="#0a2a5c" stroke-width="2" stroke-linecap="round" stroke-linejoin="round"><circle cx="12" cy="12" r="1"/><circle cx="19" cy="12" r="1"/><circle cx="5" cy="12" r="1"/></svg>
<svg class="ic" style="left:299px;top:932px;width:16px;height:16px;" viewBox="0 0 24 24" fill="none" stroke="#22c55e" stroke-width="2" stroke-linecap="round" stroke-linejoin="round"><circle cx="12" cy="12" r="10"/><path d="m9 12 2 2 4-4"/></svg>
<div class="t" style="left:323px;top:940px;font-size:14.6px;color:#0b3a6b;font-weight:400;letter-spacing:0.12px;-webkit-text-stroke:0.35px #0b3a6b;">Elijah Clark</div>
<div class="t" style="left:468.8px;top:940px;font-size:14.8px;color:#0b3a6b;font-weight:400;letter-spacing:0.28px;">2025-10-20</div>
<div class="t" style="left:639.6px;top:940px;font-size:14.8px;color:#0b3a6b;font-weight:400;letter-spacing:-0.15px;">Assessment Reports</div>
<div class="box" style="left:831px;top:930px;width:61px;height:20px;background:#ef4444;border-radius:10px"></div>
<div class="t" style="left:841.4px;top:940px;font-size:12.6px;color:#fff;font-weight:400;letter-spacing:0px;-webkit-text-stroke:0.4px #fff;">Unpaid</div>
<div class="box" style="left:991px;top:926px;width:112px;height:28px;background:#f5dccc;border-radius:7px"></div>
<div class="t" style="left:999px;top:940px;font-size:12.6px;color:#c2410c;font-weight:400;letter-spacing:0.1px;-webkit-text-stroke:0.1px #c2410c;">Awaiting Info</div>
<svg class="ic" style="left:1079px;top:932px;width:16px;height:16px;opacity:0.5" viewBox="0 0 24 24" fill="none" stroke="#c2410c" stroke-width="2" stroke-linecap="round" stroke-linejoin="round"><path d="m6 9 6 6 6-6"/></svg>
<div class="box" style="left:1135px;top:924px;width:154px;height:32px;border:1px solid #dbe2ea;border-radius:7px"></div>
<div class="t" style="left:1148.0px;top:940px;font-size:12.6px;color:#0b3a6b;font-weight:400;letter-spacing:0px;">D. Miller</div>
<svg class="ic" style="left:1260px;top:932px;width:16px;height:16px;opacity:0.9" viewBox="0 0 24 24" fill="none" stroke="#5b7a99" stroke-width="2" stroke-linecap="round" stroke-linejoin="round"><path d="m6 9 6 6 6-6"/></svg>
<svg class="ic" style="left:1584px;top:932px;width:16px;height:16px;" viewBox="0 0 24 24" fill="none" stroke="#0a2a5c" stroke-width="2" stroke-linecap="round" stroke-linejoin="round"><circle cx="12" cy="12" r="1"/><circle cx="19" cy="12" r="1"/><circle cx="5" cy="12" r="1"/></svg>
<div class="t" style="left:283.2px;top:1010px;font-size:14.8px;color:#56728f;font-weight:400;letter-spacing:0.2px;">44 request(s) total.</div>
<div class="t" style="left:1245.4px;top:1010px;font-size:14.8px;color:#0b3a6b;font-weight:400;letter-spacing:0px;-webkit-text-stroke:0.35px #0b3a6b;">Rows per page</div>
<div class="box" style="left:1353px;top:994px;width:70px;height:32px;border:1px solid #dbe2ea;border-radius:7px"></div>
<div class="t" style="left:1366.3px;top:1010px;font-size:14.8px;color:#0b3a6b;font-weight:400;letter-spacing:0px;">10</div>
<svg class="ic" style="left:1394px;top:1002px;width:16px;height:16px;opacity:0.8" viewBox="0 0 24 24" fill="none" stroke="#5b7a99" stroke-width="2" stroke-linecap="round" stroke-linejoin="round"><path d="m6 9 6 6 6-6"/></svg>
<div class="t" style="left:1443.6px;top:1010px;font-size:14.8px;color:#0b3a6b;font-weight:400;letter-spacing:0px;-webkit-text-stroke:0.35px #0b3a6b;">Page 2 of 5</div>
<div class="box" style="left:1539px;top:992px;width:42px;height:36px;border:1px solid #dde3e9;border-radius:7px"></div>
<svg class="ic" style="left:1552px;top:1002px;width:16px;height:16px;" viewBox="0 0 24 24" fill="none" stroke="#0b3a6b" stroke-width="2" stroke-linecap="round" stroke-linejoin="round"><path d="m15 18-6-6 6-6"/></svg>
<div class="box" style="left:1585px;top:988px;width:50px;height:44px;border:2px solid #0653bd;border-radius:9px"></div>
<div class="box" style="left:1589px;top:992px;width:42px;height:36px;border:1px solid #dde3e9;border-radius:7px"></div>
<svg class="ic" style="left:1602px;top:1002px;width:16px;height:16px;" viewBox="0 0 24 24" fill="none" stroke="#0b3a6b" stroke-width="2" stroke-linecap="round" stroke-linejoin="round"><path d="m9 18 6-6-6-6"/></svg>
</body></html>
